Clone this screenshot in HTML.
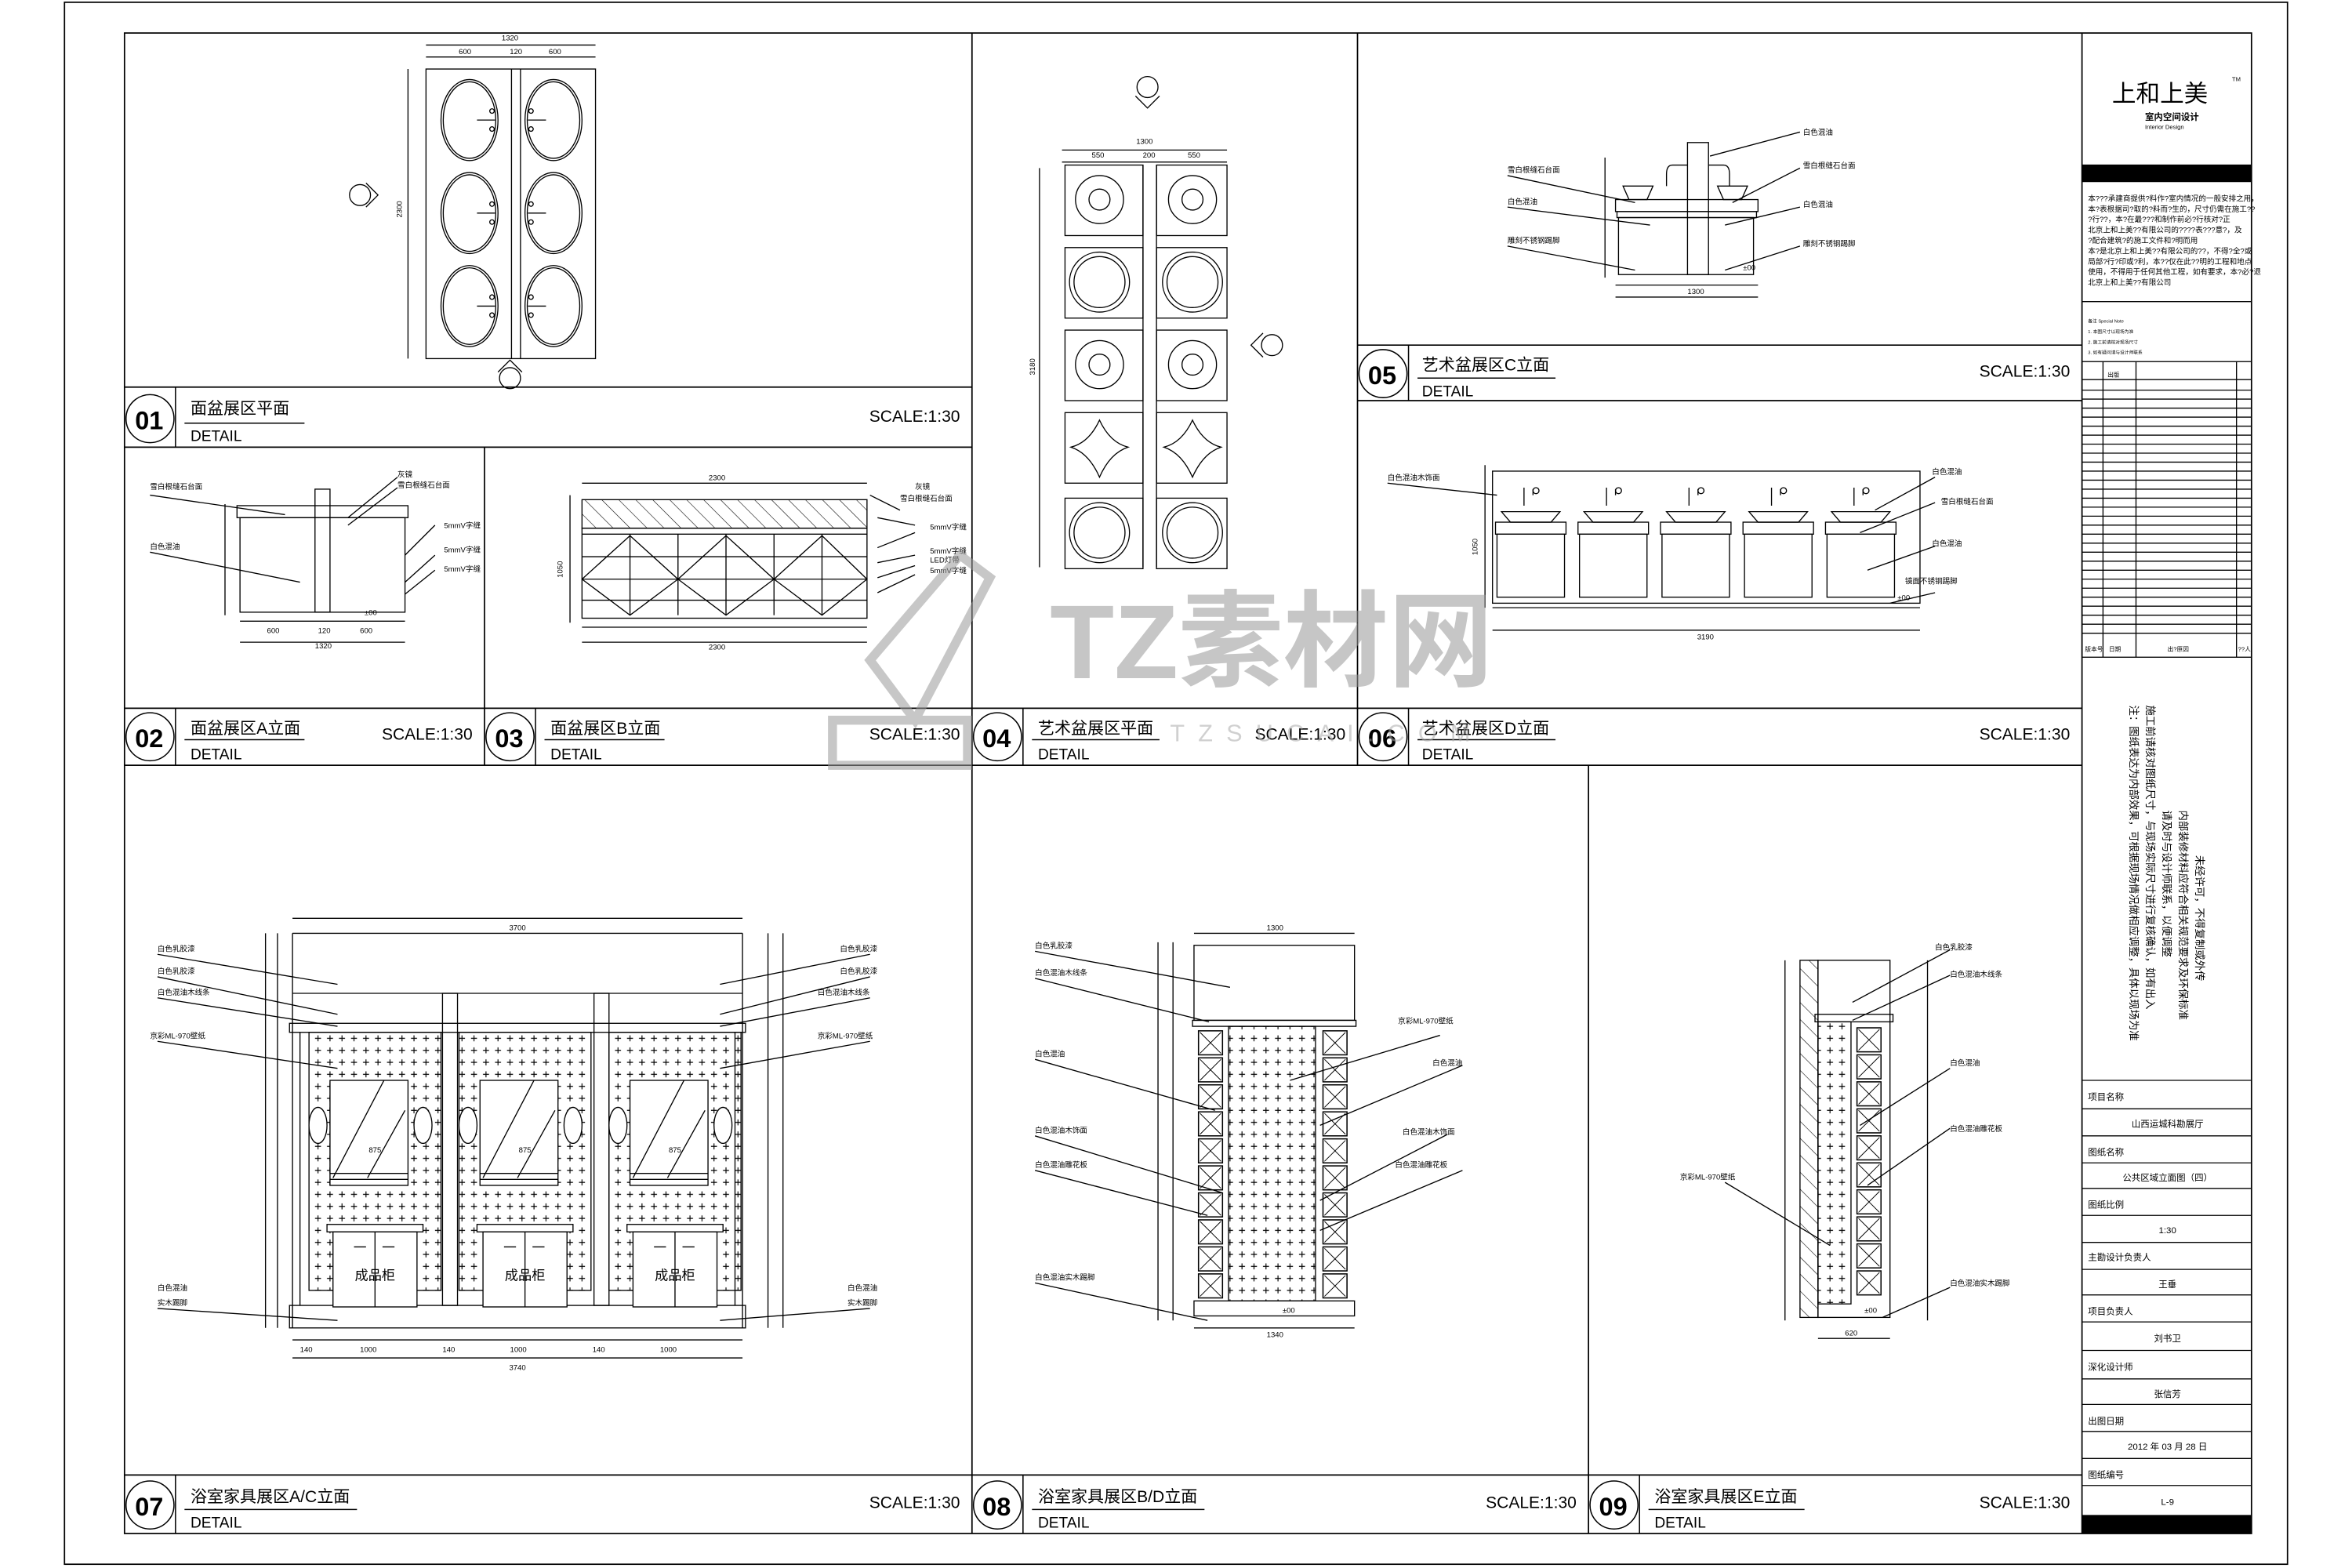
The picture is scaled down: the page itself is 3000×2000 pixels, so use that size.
<!DOCTYPE html>
<html><head><meta charset="utf-8">
<style>
html,body{margin:0;padding:0;background:#fff;}
svg{display:block;}
text{font-family:"Liberation Sans","Noto Sans CJK SC",sans-serif;fill:#000;}
.t{font-size:11px;}
.s{font-size:5px;}
.n{font-size:17px;font-weight:bold;}
.d{font-size:10px;}
.sc{font-size:11px;}
</style></head><body>
<svg width="3000" height="2000" viewBox="0 0 1568 1045" preserveAspectRatio="none" xmlns="http://www.w3.org/2000/svg">
<defs>
<pattern id="plus" width="8" height="8" patternUnits="userSpaceOnUse">
<path d="M2 4h4M4 2v4" stroke="#000" stroke-width="0.6"/>
</pattern>
<pattern id="hatch" width="8" height="8" patternUnits="userSpaceOnUse" patternTransform="rotate(-45)">
<path d="M0 0v8" stroke="#000" stroke-width="0.6"/>
</pattern>
<g id="xcell"><rect x="0" y="0" width="16" height="16" fill="#fff" stroke="#000" stroke-width="0.8"/><path d="M1 1L15 15M15 1L1 15" stroke="#000" stroke-width="0.5"/></g>
</defs>
<rect width="1568" height="1045" fill="#fff"/>
<g fill="none" stroke="#000" stroke-width="0.9">
<rect x="43" y="1.5" width="1482" height="1041"/>
<rect x="83" y="22" width="1418" height="1000"/>
<line x1="1388" y1="22" x2="1388" y2="1022"/>
<line x1="648" y1="22" x2="648" y2="1022"/>
<line x1="905" y1="22" x2="905" y2="510"/>
<line x1="323" y1="298" x2="323" y2="510"/>
<line x1="1059" y1="510" x2="1059" y2="1022"/>
<line x1="83" y1="258" x2="648" y2="258"/><line x1="83" y1="298" x2="648" y2="298"/>
<line x1="905" y1="230" x2="1388" y2="230"/><line x1="905" y1="267" x2="1388" y2="267"/>
<line x1="83" y1="472" x2="1388" y2="472"/><line x1="83" y1="510" x2="1388" y2="510"/>
<line x1="83" y1="983" x2="1388" y2="983"/>
</g>

<g id="tb">
<g fill="none" stroke="#000" stroke-width="0.8">
<circle cx="100" cy="279" r="16"/><line x1="117" y1="258" x2="117" y2="298"/><line x1="123" y1="282" x2="203" y2="282"/>
<circle cx="100" cy="491" r="16"/><line x1="117" y1="472" x2="117" y2="510"/><line x1="123" y1="493" x2="203" y2="493"/>
<circle cx="340" cy="491" r="16"/><line x1="357" y1="472" x2="357" y2="510"/><line x1="363" y1="493" x2="443" y2="493"/>
<circle cx="665" cy="491" r="16"/><line x1="682" y1="472" x2="682" y2="510"/><line x1="688" y1="493" x2="773" y2="493"/>
<circle cx="922" cy="249" r="16"/><line x1="939" y1="230" x2="939" y2="267"/><line x1="945" y1="252" x2="1037" y2="252"/>
<circle cx="922" cy="491" r="16"/><line x1="939" y1="472" x2="939" y2="510"/><line x1="945" y1="493" x2="1037" y2="493"/>
<circle cx="100" cy="1003" r="16"/><line x1="117" y1="983" x2="117" y2="1022"/><line x1="123" y1="1006" x2="238" y2="1006"/>
<circle cx="665" cy="1003" r="16"/><line x1="682" y1="983" x2="682" y2="1022"/><line x1="688" y1="1006" x2="803" y2="1006"/>
<circle cx="1076" cy="1003" r="16"/><line x1="1093" y1="983" x2="1093" y2="1022"/><line x1="1099" y1="1006" x2="1203" y2="1006"/>
</g>
<text class="n" x="90" y="286">01</text><text class="t" x="127" y="276">面盆展区平面</text><text class="d" x="127" y="294">DETAIL</text><text class="sc" x="640" y="281" text-anchor="end">SCALE:1:30</text>
<text class="n" x="90" y="498">02</text><text class="t" x="127" y="489">面盆展区A立面</text><text class="d" x="127" y="506">DETAIL</text><text class="sc" x="315" y="493" text-anchor="end">SCALE:1:30</text>
<text class="n" x="330" y="498">03</text><text class="t" x="367" y="489">面盆展区B立面</text><text class="d" x="367" y="506">DETAIL</text><text class="sc" x="640" y="493" text-anchor="end">SCALE:1:30</text>
<text class="n" x="655" y="498">04</text><text class="t" x="692" y="489">艺术盆展区平面</text><text class="d" x="692" y="506">DETAIL</text><text class="sc" x="897" y="493" text-anchor="end">SCALE:1:30</text>
<text class="n" x="912" y="256">05</text><text class="t" x="948" y="247">艺术盆展区C立面</text><text class="d" x="948" y="264">DETAIL</text><text class="sc" x="1380" y="251" text-anchor="end">SCALE:1:30</text>
<text class="n" x="912" y="498">06</text><text class="t" x="948" y="489">艺术盆展区D立面</text><text class="d" x="948" y="506">DETAIL</text><text class="sc" x="1380" y="493" text-anchor="end">SCALE:1:30</text>
<text class="n" x="90" y="1010">07</text><text class="t" x="127" y="1001">浴室家具展区A/C立面</text><text class="d" x="127" y="1018">DETAIL</text><text class="sc" x="640" y="1005" text-anchor="end">SCALE:1:30</text>
<text class="n" x="655" y="1010">08</text><text class="t" x="692" y="1001">浴室家具展区B/D立面</text><text class="d" x="692" y="1018">DETAIL</text><text class="sc" x="1051" y="1005" text-anchor="end">SCALE:1:30</text>
<text class="n" x="1066" y="1010">09</text><text class="t" x="1103" y="1001">浴室家具展区E立面</text><text class="d" x="1103" y="1018">DETAIL</text><text class="sc" x="1380" y="1005" text-anchor="end">SCALE:1:30</text>
</g>

<!-- PANEL 01 -->
<g fill="none" stroke="#000" stroke-width="0.7">
<rect x="284" y="46" width="113" height="193"/>
<line x1="341" y1="46" x2="341" y2="239"/><line x1="347" y1="46" x2="347" y2="239"/>
<line x1="284" y1="38" x2="397" y2="38"/><line x1="284" y1="30" x2="397" y2="30"/>
<line x1="272" y1="46" x2="272" y2="239"/>
<g id="ov"><ellipse cx="313" cy="80" rx="19" ry="27"/><ellipse cx="313" cy="80" rx="17.5" ry="25.5"/><path d="M318 80h12"/><circle cx="328" cy="74" r="1.5"/><circle cx="328" cy="86" r="1.5"/></g>
<use href="#ov" y="62"/><use href="#ov" y="124"/>
<use href="#ov" transform="translate(682 0) scale(-1 1)"/><use href="#ov" transform="translate(682 62) scale(-1 1)"/><use href="#ov" transform="translate(682 124) scale(-1 1)"/>
<circle cx="240" cy="130" r="7"/><path d="M244 122l8 8-8 8"/>
<circle cx="340" cy="252" r="7"/><path d="M332 248l8-8 8 8"/>
</g>
<text class="s" x="340" y="27" text-anchor="middle">1320</text>
<text class="s" x="310" y="36" text-anchor="middle">600</text><text class="s" x="344" y="36" text-anchor="middle">120</text><text class="s" x="370" y="36" text-anchor="middle">600</text>
<text class="s" x="268" y="145" transform="rotate(-90 268 145)">2300</text>

<!-- PANEL 02 -->
<g fill="none" stroke="#000" stroke-width="0.7">
<rect x="160" y="345" width="110" height="63"/>
<rect x="158" y="337" width="114" height="8"/>
<rect x="210" y="326" width="10" height="82"/>
<line x1="150" y1="336" x2="150" y2="410"/>
<line x1="160" y1="414" x2="270" y2="414"/><line x1="160" y1="428" x2="270" y2="428"/>
<path d="M100 330L190 343M265 318L232 345M265 325L232 350M100 368L200 388M290 350L270 370M290 370L270 388M290 380L270 396"/>
</g>
<text class="s" x="100" y="326">雪白根缝石台面</text><text class="s" x="100" y="366">白色混油</text>
<text class="s" x="265" y="318">灰镜</text><text class="s" x="265" y="325">雪白根缝石台面</text>
<text class="s" x="296" y="352">5mmV字缝</text><text class="s" x="296" y="368">5mmV字缝</text><text class="s" x="296" y="381">5mmV字缝</text>
<text class="s" x="178" y="422">600</text><text class="s" x="212" y="422">120</text><text class="s" x="240" y="422">600</text><text class="s" x="210" y="432">1320</text>
<text class="s" x="243" y="410">±00</text>

<!-- PANEL 03 -->
<g fill="none" stroke="#000" stroke-width="0.7">
<rect x="388" y="333" width="190" height="19" fill="url(#hatch)"/>
<rect x="388" y="352" width="190" height="60"/>
<line x1="388" y1="356" x2="578" y2="356"/>
<line x1="388" y1="371" x2="578" y2="371"/><line x1="388" y1="386" x2="578" y2="386"/><line x1="388" y1="400" x2="578" y2="400"/>
<line x1="420" y1="356" x2="420" y2="410"/><line x1="452" y1="356" x2="452" y2="410"/><line x1="484" y1="356" x2="484" y2="410"/><line x1="516" y1="356" x2="516" y2="410"/><line x1="548" y1="356" x2="548" y2="410"/>
<path d="M388 386L420 357L452 386L420 410ZM452 386L484 357L516 386L484 410ZM516 386L548 357L578 386L548 410Z"/>
<line x1="388" y1="322" x2="578" y2="322"/><line x1="388" y1="418" x2="578" y2="418"/><line x1="388" y1="428" x2="578" y2="428"/>
<line x1="380" y1="330" x2="380" y2="415"/>
<path d="M580 330L600 340M585 345L610 350M585 365L610 355M585 375L610 370M585 385L610 377M585 395L610 383"/>
</g>
<text class="s" x="478" y="320" text-anchor="middle">2300</text><text class="s" x="478" y="433" text-anchor="middle">2300</text>
<text class="s" x="610" y="326">灰镜</text><text class="s" x="600" y="334">雪白根缝石台面</text>
<text class="s" x="620" y="353">5mmV字缝</text><text class="s" x="620" y="369">5mmV字缝</text><text class="s" x="620" y="375">LED灯带</text><text class="s" x="620" y="382">5mmV字缝</text>
<text class="s" x="375" y="385" transform="rotate(-90 375 385)">1050</text>

<!-- PANEL 04 -->
<g fill="none" stroke="#000" stroke-width="0.7">
<line x1="708" y1="108" x2="818" y2="108"/><line x1="708" y1="100" x2="818" y2="100"/>
<line x1="693" y1="112" x2="693" y2="378"/>
<line x1="762" y1="110" x2="762" y2="378"/><line x1="771" y1="110" x2="771" y2="378"/>
<g id="c4"><rect x="710" y="110" width="52" height="47"/><rect x="771" y="110" width="47" height="47"/></g>
<use href="#c4" y="55"/><use href="#c4" y="110"/><use href="#c4" y="165"/><use href="#c4" y="222"/>
<circle cx="733" cy="133" r="16"/><circle cx="733" cy="133" r="7"/><circle cx="795" cy="133" r="16"/><circle cx="795" cy="133" r="7"/>
<circle cx="733" cy="188" r="20"/><circle cx="733" cy="188" r="17"/><circle cx="795" cy="188" r="20"/><circle cx="795" cy="188" r="17"/>
<circle cx="733" cy="243" r="16"/><circle cx="733" cy="243" r="7"/><circle cx="795" cy="243" r="16"/><circle cx="795" cy="243" r="7"/>
<path d="M733 280Q740 295 752 298Q740 302 733 318Q726 302 714 298Q726 295 733 280Z"/><path d="M795 280Q802 295 814 298Q802 302 795 318Q788 302 776 298Q788 295 795 280Z"/>
<circle cx="733" cy="355" r="20"/><circle cx="733" cy="355" r="17"/><circle cx="795" cy="355" r="20"/><circle cx="795" cy="355" r="17"/>
<circle cx="848" cy="230" r="7"/><path d="M842 222l-8 8 8 8"/>
<circle cx="765" cy="58" r="7"/><path d="M757 64l8 8 8-8"/>
</g>
<text class="s" x="763" y="96" text-anchor="middle">1300</text>
<text class="s" x="732" y="105" text-anchor="middle">550</text><text class="s" x="766" y="105" text-anchor="middle">200</text><text class="s" x="796" y="105" text-anchor="middle">550</text>
<text class="s" x="690" y="250" transform="rotate(-90 690 250)">3180</text>

<!-- PANEL 05 -->
<g fill="none" stroke="#000" stroke-width="0.7">
<rect x="1077" y="133" width="95" height="8"/><rect x="1078" y="141" width="93" height="4"/>
<rect x="1079" y="145" width="90" height="38"/>
<rect x="1125" y="95" width="14" height="88"/>
<path d="M1082 124h20l-4 9h-12ZM1145 124h20l-4 9h-12Z"/>
<path d="M1125 110h-10q-4 0-4 6v8M1139 110h10q4 0 4 6v8"/>
<line x1="1070" y1="105" x2="1070" y2="185"/><line x1="1077" y1="190" x2="1172" y2="190"/><line x1="1077" y1="198" x2="1172" y2="198"/>
<path d="M1005 117L1090 135M1200 112L1155 135M1140 104L1200 88M1005 138L1100 150M1200 138L1150 150M1005 164L1090 180M1200 164L1150 180"/>
</g>
<text class="s" x="1005" y="115">雪白根缝石台面</text><text class="s" x="1005" y="136">白色混油</text><text class="s" x="1005" y="162">雕刻不锈钢踢脚</text>
<text class="s" x="1202" y="90">白色混油</text><text class="s" x="1202" y="112">雪白根缝石台面</text><text class="s" x="1202" y="138">白色混油</text><text class="s" x="1202" y="164">雕刻不锈钢踢脚</text>
<text class="s" x="1125" y="196">1300</text><text class="s" x="1162" y="180">±00</text>

<!-- PANEL 06 -->
<g fill="none" stroke="#000" stroke-width="0.7">
<rect x="995" y="314" width="285" height="88"/>
<line x1="990" y1="310" x2="990" y2="405"/>
<line x1="995" y1="405" x2="1280" y2="405"/><line x1="995" y1="420" x2="1280" y2="420"/>
<g id="cab6"><rect x="997" y="348" width="47" height="8"/><rect x="998" y="356" width="45" height="42"/><path d="M1001 341h39l-6 7h-27Z"/><path d="M1016 325v12M1022 326v4"/><circle cx="1024" cy="327" r="2"/></g>
<use href="#cab6" x="55"/><use href="#cab6" x="110"/><use href="#cab6" x="165"/><use href="#cab6" x="220"/>
<path d="M925 322L998 330M1290 318L1250 340M1290 335L1240 355M1290 364L1245 380M1290 395L1260 402"/>
</g>
<text class="s" x="925" y="320">白色混油木饰面</text><text class="s" x="1288" y="316">白色混油</text><text class="s" x="1294" y="336">雪白根缝石台面</text><text class="s" x="1288" y="364">白色混油</text><text class="s" x="1270" y="389">镜面不锈钢踢脚</text>
<text class="s" x="1137" y="426" text-anchor="middle">3190</text><text class="s" x="1265" y="400">±00</text>
<text class="s" x="985" y="370" transform="rotate(-90 985 370)">1050</text>

<!-- PANEL 07 -->
<g fill="none" stroke="#000" stroke-width="0.7">
<rect x="206" y="688" width="88" height="172" fill="url(#plus)"/>
<rect x="306" y="688" width="88" height="172" fill="url(#plus)"/>
<rect x="406" y="688" width="88" height="172" fill="url(#plus)"/>
<line x1="195" y1="622" x2="195" y2="885"/><line x1="495" y1="622" x2="495" y2="885"/>
<line x1="195" y1="622" x2="495" y2="622"/><line x1="195" y1="662" x2="495" y2="662"/>
<rect x="193" y="682" width="304" height="6"/>
<line x1="200" y1="688" x2="200" y2="870"/><line x1="490" y1="688" x2="490" y2="870"/>
<rect x="295" y="662" width="10" height="208"/><rect x="396" y="662" width="10" height="208"/>
<rect x="193" y="870" width="304" height="15"/>
<g id="unit7"><rect x="220" y="720" width="52" height="70" fill="#fff"/><path d="M222 785L256 720M245 785L270 740"/><line x1="220" y1="782" x2="272" y2="782"/><line x1="220" y1="786" x2="272" y2="786"/>
<rect x="218" y="816" width="64" height="5" fill="#fff"/><rect x="222" y="821" width="56" height="50" fill="#fff"/><line x1="250" y1="821" x2="250" y2="871"/><path d="M236 831h8M255 831h8"/>
<ellipse cx="212" cy="750" rx="6" ry="12" fill="#fff"/><ellipse cx="282" cy="750" rx="6" ry="12" fill="#fff"/>
<text x="250" y="853" text-anchor="middle" style="font-size:9px;stroke:none">成品柜</text><text x="250" y="768" text-anchor="middle" style="font-size:5px;stroke:none">875</text></g>
<use href="#unit7" x="100"/><use href="#unit7" x="200"/>
<line x1="195" y1="612" x2="495" y2="612"/><line x1="195" y1="893" x2="495" y2="893"/><line x1="195" y1="905" x2="495" y2="905"/>
<line x1="177" y1="622" x2="177" y2="885"/><line x1="185" y1="622" x2="185" y2="885"/><line x1="512" y1="622" x2="512" y2="885"/><line x1="522" y1="622" x2="522" y2="885"/>
<path d="M105 636L225 656M105 651L225 676M105 665L225 684M105 694L225 712M105 872L225 880M580 636L480 656M580 651L480 676M580 665L480 684M580 694L480 712M580 872L480 880"/>
</g>
<text class="s" x="345" y="620" text-anchor="middle">3700</text><text class="s" x="345" y="913" text-anchor="middle">3740</text>
<text class="s" x="105" y="634">白色乳胶漆</text><text class="s" x="105" y="649">白色乳胶漆</text><text class="s" x="105" y="663">白色混油木线条</text><text class="s" x="100" y="692">京彩ML-970壁纸</text><text class="s" x="105" y="860">白色混油</text><text class="s" x="105" y="870">实木踢脚</text>
<text class="s" x="560" y="634">白色乳胶漆</text><text class="s" x="560" y="649">白色乳胶漆</text><text class="s" x="545" y="663">白色混油木线条</text><text class="s" x="545" y="692">京彩ML-970壁纸</text><text class="s" x="565" y="860">白色混油</text><text class="s" x="565" y="870">实木踢脚</text>
<text class="s" x="200" y="901">140</text><text class="s" x="240" y="901">1000</text><text class="s" x="295" y="901">140</text><text class="s" x="340" y="901">1000</text><text class="s" x="395" y="901">140</text><text class="s" x="440" y="901">1000</text>

<!-- PANEL 08 -->
<g fill="none" stroke="#000" stroke-width="0.7">
<rect x="796" y="630" width="107" height="50"/>
<rect x="795" y="680" width="109" height="4"/>
<rect x="819" y="684" width="58" height="183" fill="url(#plus)"/>
<g id="col8"><use href="#xcell" x="799" y="687"/><use href="#xcell" x="799" y="705"/><use href="#xcell" x="799" y="723"/><use href="#xcell" x="799" y="741"/><use href="#xcell" x="799" y="759"/><use href="#xcell" x="799" y="777"/><use href="#xcell" x="799" y="795"/><use href="#xcell" x="799" y="813"/><use href="#xcell" x="799" y="831"/><use href="#xcell" x="799" y="849"/></g>
<use href="#col8" x="83"/>
<rect x="796" y="867" width="107" height="10"/>
<line x1="772" y1="628" x2="772" y2="880"/><line x1="782" y1="628" x2="782" y2="880"/>
<line x1="796" y1="622" x2="903" y2="622"/><line x1="796" y1="885" x2="903" y2="885"/>
<path d="M690 634L820 658M690 652L806 681M690 706L810 740M690 757L815 795M690 780L805 810M690 855L805 880M960 690L860 720M975 710L880 750M965 756L880 800M975 780L880 820"/>
</g>
<text class="s" x="850" y="620" text-anchor="middle">1300</text><text class="s" x="850" y="891" text-anchor="middle">1340</text>
<text class="s" x="690" y="632">白色乳胶漆</text><text class="s" x="690" y="650">白色混油木线条</text><text class="s" x="690" y="704">白色混油</text><text class="s" x="690" y="755">白色混油木饰面</text><text class="s" x="690" y="778">白色混油雕花板</text><text class="s" x="690" y="853">白色混油实木踢脚</text>
<text class="s" x="932" y="682">京彩ML-970壁纸</text><text class="s" x="955" y="710">白色混油</text><text class="s" x="935" y="756">白色混油木饰面</text><text class="s" x="930" y="778">白色混油雕花板</text>
<text class="s" x="855" y="875">±00</text>

<!-- PANEL 09 -->
<g fill="none" stroke="#000" stroke-width="0.7">
<rect x="1200" y="640" width="12" height="238" fill="url(#hatch)"/>
<rect x="1212" y="640" width="48" height="238"/>
<rect x="1210" y="676" width="52" height="5"/>
<rect x="1212" y="681" width="22" height="188" fill="url(#plus)"/>
<g id="col9"><use href="#xcell" x="1238" y="685"/><use href="#xcell" x="1238" y="703"/><use href="#xcell" x="1238" y="721"/><use href="#xcell" x="1238" y="739"/><use href="#xcell" x="1238" y="757"/><use href="#xcell" x="1238" y="775"/><use href="#xcell" x="1238" y="793"/><use href="#xcell" x="1238" y="811"/><use href="#xcell" x="1238" y="829"/><use href="#xcell" x="1238" y="847"/></g>
<line x1="1190" y1="640" x2="1190" y2="880"/><line x1="1285" y1="640" x2="1285" y2="880"/>
<line x1="1212" y1="892" x2="1260" y2="892"/>
<path d="M1300 633L1235 668M1300 650L1235 680M1300 712L1240 750M1300 752L1245 790M1150 788L1220 830M1300 858L1255 878"/>
</g>
<text class="s" x="1290" y="633">白色乳胶漆</text><text class="s" x="1300" y="651">白色混油木线条</text><text class="s" x="1300" y="710">白色混油</text><text class="s" x="1300" y="754">白色混油雕花板</text><text class="s" x="1120" y="786">京彩ML-970壁纸</text><text class="s" x="1300" y="857">白色混油实木踢脚</text>
<text class="s" x="1230" y="890">620</text><text class="s" x="1243" y="875">±00</text>

<!-- watermark -->
<g opacity="0.55">
<text x="700" y="452" style="font-size:70px;font-weight:bold;fill:#999">TZ素材网</text>
<text x="780" y="494" style="font-size:16px;fill:#aaa;letter-spacing:9px">TZSUCAI.COM</text>
<path d="M555 480h90v30h-90zM580 440l60-70 20 15-50 95z" fill="none" stroke="#999" stroke-width="6"/>
</g>

<!-- TITLE BLOCK -->
<g fill="none" stroke="#000" stroke-width="0.7">
<rect x="1388" y="110" width="113" height="11" fill="#000"/>
<line x1="1388" y1="201" x2="1501" y2="201"/>
<rect x="1388" y="241" width="113" height="197"/>
<line x1="1402" y1="241" x2="1402" y2="438"/><line x1="1424" y1="241" x2="1424" y2="438"/><line x1="1491" y1="241" x2="1491" y2="438"/>
<path d="M1388 253h113M1388 260h113M1388 266h113M1388 272h113M1388 278h113M1388 284h113M1388 290h113M1388 296h113M1388 302h113M1388 308h113M1388 314h113M1388 320h113M1388 326h113M1388 332h113M1388 338h113M1388 344h113M1388 350h113M1388 356h113M1388 362h113M1388 368h113M1388 374h113M1388 380h113M1388 386h113M1388 392h113M1388 398h113M1388 404h113M1388 410h113M1388 416h113M1388 422h113"/>
<path d="M1388 720h113M1388 739h113M1388 757h113M1388 775h113M1388 792h113M1388 810h113M1388 828h113M1388 846h113M1388 863h113M1388 881h113M1388 900h113M1388 919h113M1388 936h113M1388 954h113M1388 972h113M1388 990h113"/>
<rect x="1388" y="1010" width="113" height="12" fill="#000"/>
</g>
<text x="1408" y="68" style="font-size:16px">上和上美</text><text x="1488" y="54" style="font-size:4px">TM</text>
<text x="1430" y="80" style="font-size:6px;font-weight:bold">室内空间设计</text><text x="1430" y="86" style="font-size:4px">Interior Design</text>
<g class="s" style="font-size:5px">
<text x="1392" y="134">本???承建商提供?料作?室内情况的一般安排之用，</text>
<text x="1392" y="141">本?表根据司?取的?料而?生的，尺寸仍需在施工??</text>
<text x="1392" y="148">?行??，本?在最???和制作前必?行核对?正</text>
<text x="1392" y="155">北京上和上美??有限公司的????表???意?，及</text>
<text x="1392" y="162">?配合建筑?的施工文件和?明而用</text>
<text x="1392" y="169">本?是北京上和上美??有限公司的??，不得?全?或</text>
<text x="1392" y="176">局部?行?印或?利，本??仅在此??明的工程和地点</text>
<text x="1392" y="183">使用，不得用于任何其他工程，如有要求，本?必?退</text>
<text x="1392" y="190">北京上和上美??有限公司</text>
<text x="1392" y="215" style="font-size:3px">备注 Special Note</text><text x="1392" y="222" style="font-size:3px">1. 本图尺寸以现场为准</text><text x="1392" y="229" style="font-size:3px">2. 施工前请核对现场尺寸</text><text x="1392" y="236" style="font-size:3px">3. 如有疑问请与设计师联系</text>
<text x="1405" y="251" style="font-size:4px">出版</text>
<text x="1390" y="434" style="font-size:4px">版本号</text><text x="1406" y="434" style="font-size:4px">日期</text><text x="1445" y="434" style="font-size:4px">出?原因</text><text x="1492" y="434" style="font-size:4px">??人</text>
</g>
<g style="font-size:7px" fill="#000">
<text transform="translate(1420 470) rotate(90)" style="font-size:7px">注：图纸表达为内部效果，可根据现场情况做相应调整，具体以现场为准</text>
<text transform="translate(1431 470) rotate(90)" style="font-size:7px">施工前请核对图纸尺寸，与现场实际尺寸进行复核确认，如有出入</text>
<text transform="translate(1442 540) rotate(90)" style="font-size:7px">请及时与设计师联系，以便调整</text>
<text transform="translate(1453 540) rotate(90)" style="font-size:7px">内部装修材料应符合相关规范要求及环保标准</text>
<text transform="translate(1464 570) rotate(90)" style="font-size:7px">未经许可，不得复制或外传</text>
</g>
<g style="font-size:6px">
<text x="1392" y="733" style="font-size:6px">项目名称</text><text x="1445" y="751" text-anchor="middle" style="font-size:6px">山西运城科勘展厅</text>
<text x="1392" y="770" style="font-size:6px">图纸名称</text><text x="1445" y="787" text-anchor="middle" style="font-size:6px">公共区域立面图（四）</text>
<text x="1392" y="805" style="font-size:6px">图纸比例</text><text x="1445" y="822" text-anchor="middle" style="font-size:6px">1:30</text>
<text x="1392" y="840" style="font-size:6px">主勘设计负责人</text><text x="1445" y="858" text-anchor="middle" style="font-size:6px">王垂</text>
<text x="1392" y="876" style="font-size:6px">项目负责人</text><text x="1445" y="894" text-anchor="middle" style="font-size:6px">刘书卫</text>
<text x="1392" y="913" style="font-size:6px">深化设计师</text><text x="1445" y="931" text-anchor="middle" style="font-size:6px">张信芳</text>
<text x="1392" y="949" style="font-size:6px">出图日期</text><text x="1445" y="966" text-anchor="middle" style="font-size:6px">2012 年 03 月 28 日</text>
<text x="1392" y="985" style="font-size:6px">图纸编号</text><text x="1445" y="1003" text-anchor="middle" style="font-size:6px">L-9</text>
</g>
</svg>
</body></html>
